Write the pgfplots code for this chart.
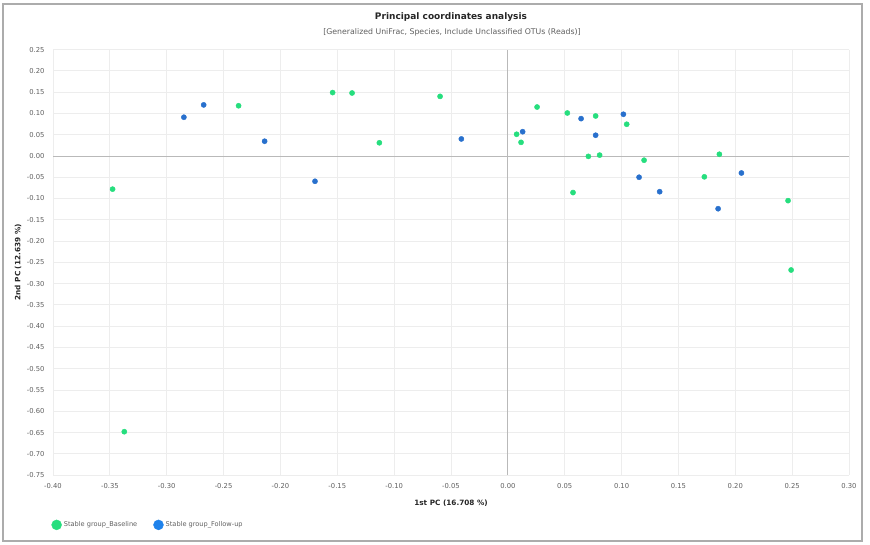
\documentclass[border=0pt]{standalone}
\usepackage{pgfplots}
\pgfplotsset{compat=1.18}
\usepackage{fontspec}
\setmainfont{DejaVu Sans}
\definecolor{basegreen}{RGB}{38,222,126}
\definecolor{fublue}{RGB}{40,112,205}
\definecolor{legblue}{RGB}{30,130,235}
\definecolor{ticktext}{RGB}{95,95,95}
\begin{document}
\begin{tikzpicture}[x=1pt,y=1pt]
\useasboundingbox (0,0) rectangle (870,545);
\draw[gray!65, line width=1.2pt] (3,4) rectangle (862,541);
\node[font=\fontsize{9}{10}\selectfont\bfseries, text=black!85] at (451,528) {Principal coordinates analysis};
\node[font=\fontsize{7.8}{9}\selectfont, text=ticktext] at (452,513) {[Generalized UniFrac, Species, Include Unclassified OTUs (Reads)]};
\begin{axis}[
  at={(53pt,69.9pt)}, anchor=south west,
  scale only axis, width=796pt, height=425.5pt,
  xmin=-0.4, xmax=0.3, ymin=-0.75, ymax=0.25,
  xtick distance=0.05, ytick distance=0.05,
  grid=major, grid style={gray!14, line width=0.8pt},
  axis line style={draw=none},
  major tick length=0pt,
  tick label style={font=\fontsize{6.8}{7}\selectfont, text=ticktext},
  xticklabel style={yshift=-5pt},
  yticklabel style={xshift=-5pt},
  /pgf/number format/.cd, fixed, fixed zerofill, precision=2, assume math mode=true,
  /pgfplots/.cd,
  extra x ticks={0}, extra y ticks={0},
  extra x tick labels={}, extra y tick labels={},
  extra tick style={grid=major, major grid style={gray!55, line width=0.8pt}},
  xlabel={1st PC (16.708 \%)},
  ylabel={2nd PC (12.639 \%)},
  label style={font=\fontsize{7.3}{8}\selectfont\bfseries, text=black!85},
  xlabel style={at={(axis description cs:0.5,-0.065)}, anchor=center},
  ylabel style={at={(axis description cs:-0.044,0.5)}, anchor=center},
  legend columns=2,
  legend style={at={(axis description cs:-0.006,-0.117)}, anchor=west, draw=none, fill=none,
    font=\fontsize{6.6}{7}\selectfont, text=ticktext,
    /tikz/every even column/.append style={column sep=14pt}},
  legend cell align=left,
]
\addplot[only marks, mark=*, mark size=2.6pt, color=basegreen,
  legend image code/.code={\fill[basegreen] (3pt,0pt) circle (5pt);}] coordinates {
(-0.3476,-0.078) (-0.3373,-0.648) (-0.2368,0.118) (-0.1541,0.149) (-0.1370,0.148)
(-0.1130,0.031) (-0.0596,0.140) (0.0257,0.115) (0.0523,0.101) (0.0772,0.094)
(0.0077,0.051) (0.0116,0.032) (0.1045,0.0745) (0.0708,-0.001) (0.0807,0.002)
(0.1198,-0.010) (0.1860,0.004) (0.1728,-0.049) (0.0573,-0.086) (0.2464,-0.105)
(0.2491,-0.268)
};
\addlegendentry{Stable group\_Baseline}
\addplot[only marks, mark=*, mark size=2.6pt, color=fublue,
  legend image code/.code={\fill[legblue] (3pt,0pt) circle (5pt);}] coordinates {
(-0.2849,0.091) (-0.2675,0.120) (-0.2139,0.0346) (-0.1696,-0.0595) (-0.0409,0.040)
(0.0130,0.057) (0.0644,0.0877) (0.1016,0.098) (0.0772,0.0487) (0.1154,-0.050)
(0.1335,-0.084) (0.2054,-0.040) (0.1849,-0.124)
};
\addlegendentry{Stable group\_Follow-up}
\end{axis}
\end{tikzpicture}
\end{document}
